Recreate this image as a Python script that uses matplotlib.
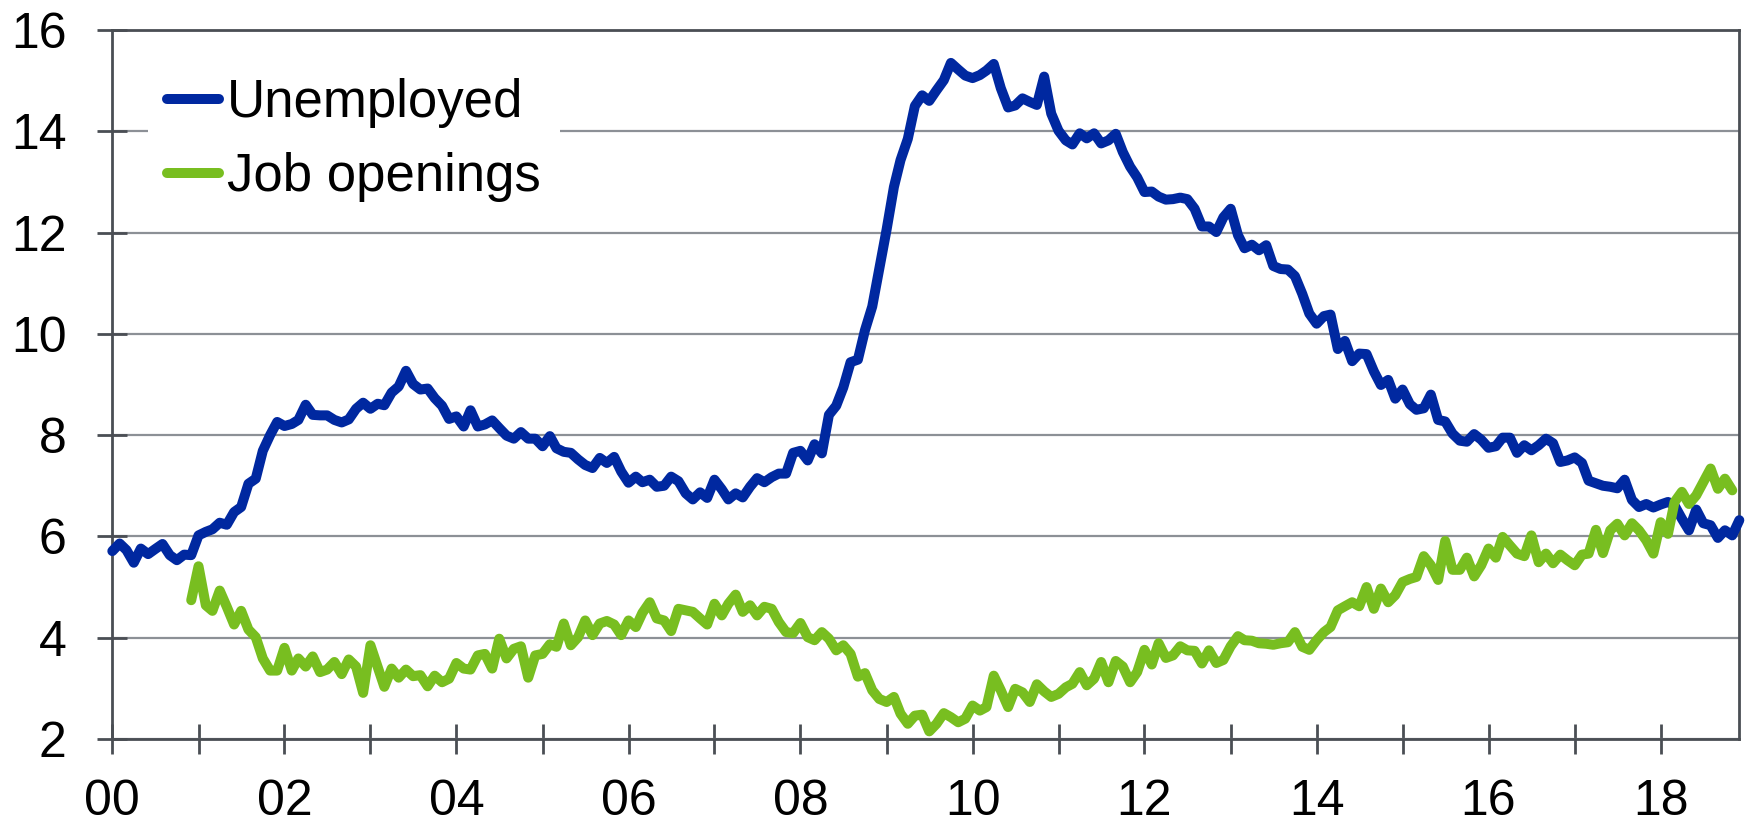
import numpy as np
import pandas as pd
import matplotlib
matplotlib.use("Agg")
import matplotlib.pyplot as plt
import matplotlib.dates as mdates
from matplotlib.ticker import FuncFormatter

plt.rcParams['font.family'] = ['Liberation Sans', 'DejaVu Sans']

# ---------------------------------------------------------------------------
# Data (millions, monthly)
# ---------------------------------------------------------------------------
unemployed_start = '2000-01-01'
unemployed = [
    5.71, 5.86, 5.73, 5.48, 5.76, 5.65, 5.75, 5.85, 5.63, 5.53, 5.64, 5.63,        # 2000
    6.02, 6.09, 6.14, 6.27, 6.23, 6.48, 6.58, 7.04, 7.14, 7.69, 8.00, 8.26,        # 2001
    8.18, 8.22, 8.30, 8.60, 8.40, 8.39, 8.39, 8.30, 8.25, 8.31, 8.52, 8.64,        # 2002
    8.52, 8.62, 8.59, 8.84, 8.96, 9.27, 9.01, 8.90, 8.92, 8.73, 8.58, 8.32,        # 2003
    8.37, 8.17, 8.49, 8.17, 8.21, 8.29, 8.14, 7.99, 7.93, 8.06, 7.93, 7.93,        # 2004
    7.78, 7.98, 7.74, 7.67, 7.65, 7.52, 7.41, 7.35, 7.55, 7.45, 7.57, 7.28,        # 2005
    7.06, 7.18, 7.07, 7.12, 6.98, 7.00, 7.18, 7.09, 6.85, 6.73, 6.87, 6.76,        # 2006
    7.12, 6.93, 6.73, 6.85, 6.77, 6.98, 7.15, 7.07, 7.17, 7.24, 7.24, 7.65,        # 2007
    7.69, 7.50, 7.82, 7.64, 8.40, 8.58, 8.94, 9.44, 9.49, 10.07, 10.54, 11.29,     # 2008
    12.06, 12.90, 13.43, 13.85, 14.50, 14.71, 14.60, 14.81, 15.01, 15.35, 15.22, 15.10,  # 2009
    15.05, 15.11, 15.20, 15.33, 14.85, 14.47, 14.51, 14.65, 14.58, 14.52, 15.08, 14.35,  # 2010
    14.01, 13.82, 13.74, 13.96, 13.86, 13.96, 13.76, 13.82, 13.95, 13.59, 13.30, 13.09,  # 2011
    12.80, 12.81, 12.71, 12.65, 12.66, 12.69, 12.66, 12.47, 12.12, 12.12, 12.01, 12.30,  # 2012
    12.47, 11.95, 11.69, 11.76, 11.65, 11.75, 11.34, 11.28, 11.27, 11.14, 10.79, 10.40,  # 2013
    10.20, 10.35, 10.38, 9.70, 9.86, 9.46, 9.61, 9.60, 9.26, 8.99, 9.09, 8.72,     # 2014
    8.90, 8.61, 8.50, 8.53, 8.80, 8.30, 8.27, 8.03, 7.89, 7.87, 8.02, 7.91,        # 2015
    7.75, 7.78, 7.95, 7.95, 7.65, 7.80, 7.70, 7.80, 7.93, 7.84, 7.47, 7.50,        # 2016
    7.56, 7.45, 7.10, 7.05, 7.00, 6.98, 6.95, 7.12, 6.72, 6.58, 6.64, 6.57,        # 2017
    6.63, 6.68, 6.61, 6.35, 6.12, 6.53, 6.26, 6.22, 5.97, 6.12, 6.02, 6.32,        # 2018
]

job_openings_start = '2000-12-01'
job_openings = [
    4.74,                                                                          # 2000
    5.41, 4.64, 4.53, 4.93, 4.61, 4.26, 4.53, 4.16, 4.01, 3.59, 3.35, 3.35,        # 2001
    3.80, 3.35, 3.59, 3.43, 3.63, 3.32, 3.37, 3.52, 3.28, 3.57, 3.43, 2.91,        # 2002
    3.85, 3.42, 3.03, 3.39, 3.21, 3.37, 3.24, 3.26, 3.04, 3.25, 3.12, 3.19,        # 2003
    3.50, 3.39, 3.37, 3.65, 3.68, 3.39, 3.98, 3.59, 3.78, 3.83, 3.21, 3.65,        # 2004
    3.68, 3.87, 3.82, 4.28, 3.85, 4.01, 4.34, 4.05, 4.28, 4.33, 4.26, 4.05,        # 2005
    4.34, 4.21, 4.49, 4.70, 4.38, 4.34, 4.13, 4.57, 4.54, 4.51, 4.38, 4.26,        # 2006
    4.67, 4.44, 4.67, 4.85, 4.51, 4.64, 4.44, 4.61, 4.57, 4.31, 4.11, 4.09,        # 2007
    4.29, 4.01, 3.95, 4.11, 3.98, 3.75, 3.85, 3.68, 3.23, 3.30, 2.96, 2.79,        # 2008
    2.73, 2.83, 2.50, 2.30, 2.46, 2.48, 2.15, 2.30, 2.51, 2.43, 2.33, 2.40,        # 2009
    2.66, 2.56, 2.63, 3.25, 2.96, 2.63, 2.99, 2.92, 2.73, 3.08, 2.94, 2.83,        # 2010
    2.89, 3.02, 3.09, 3.32, 3.06, 3.19, 3.52, 3.12, 3.54, 3.43, 3.12, 3.32,        # 2011
    3.76, 3.47, 3.89, 3.60, 3.65, 3.83, 3.75, 3.74, 3.49, 3.75, 3.50, 3.56,        # 2012
    3.83, 4.03, 3.95, 3.94, 3.89, 3.88, 3.86, 3.89, 3.91, 4.11, 3.82, 3.76,        # 2013
    3.95, 4.11, 4.21, 4.54, 4.62, 4.70, 4.62, 5.00, 4.57, 4.97, 4.70, 4.84,        # 2014
    5.10, 5.16, 5.20, 5.61, 5.43, 5.14, 5.91, 5.34, 5.34, 5.58, 5.21, 5.43,        # 2015
    5.76, 5.58, 5.99, 5.82, 5.66, 5.61, 6.02, 5.49, 5.66, 5.47, 5.64, 5.53,        # 2016
    5.43, 5.64, 5.66, 6.13, 5.67, 6.12, 6.25, 6.02, 6.26, 6.12, 5.92, 5.66,        # 2017
    6.28, 6.05, 6.68, 6.88, 6.64, 6.81, 7.07, 7.34, 6.94, 7.14, 6.91,              # 2018
]

series_labels = ['Unemployed', 'Job openings']
series_colors = ['#0028a0', '#78be20']

y_ticks = [2, 4, 6, 8, 10, 12, 14, 16]

# ---------------------------------------------------------------------------
# Figure
# ---------------------------------------------------------------------------
dates_u = pd.date_range(unemployed_start, periods=len(unemployed), freq='MS')
dates_j = pd.date_range(job_openings_start, periods=len(job_openings), freq='MS')

fig = plt.figure(figsize=(17.47, 8.24), dpi=100)
fig.patch.set_facecolor('white')
ax = fig.add_axes([0.0643, 0.1032, 0.9313, 0.8604])

lw = 7.2
line_kw = dict(linewidth=lw, solid_capstyle='round', solid_joinstyle='round',
               clip_on=False)
ax.plot(dates_u, unemployed, color=series_colors[0], label=series_labels[0],
        zorder=3, **line_kw)
ax.plot(dates_j, job_openings, color=series_colors[1], label=series_labels[1],
        zorder=3, **line_kw)

ax.set_xlim(dates_u[0], dates_u[-1])
ax.set_ylim(y_ticks[0], y_ticks[-1])
ax.set_yticks(y_ticks)

ax.xaxis.set_major_locator(mdates.YearLocator(1))
ax.xaxis.set_major_formatter(FuncFormatter(
    lambda v, pos: mdates.num2date(v).strftime('%y')
    if mdates.num2date(v).year % 2 == 0 else ''))

spine_col = '#4a4e54'
for sp in ax.spines.values():
    sp.set_color(spine_col)
    sp.set_linewidth(2)

ax.yaxis.grid(True, color='#8c9096', linewidth=1.6)
ax.set_axisbelow(True)

ax.tick_params(axis='both', direction='inout', length=22, width=2,
               color=spine_col, labelsize=36, labelcolor='black')
ax.tick_params(axis='x', pad=18)
ax.tick_params(axis='y', pad=22)

leg = ax.legend(loc='upper left', bbox_to_anchor=(0.022, 0.958),
                fontsize=38, frameon=True, facecolor='white',
                edgecolor='none', framealpha=1, fancybox=False,
                borderpad=0.35, borderaxespad=0, handlelength=1.0,
                handletextpad=0.15, labelspacing=0.45)
for h in leg.get_lines():
    h.set_solid_capstyle('round')
    h.set_linewidth(lw)

fig.savefig('out.png', dpi=100, facecolor='white')
